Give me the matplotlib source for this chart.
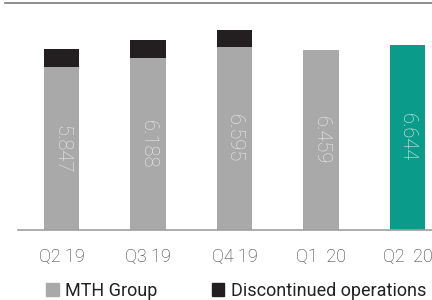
import numpy as np
import matplotlib
matplotlib.use('Agg')
import matplotlib.pyplot as plt
from matplotlib.lines import Line2D
from matplotlib.patches import Patch

plt.rcParams['font.family'] = ['Roboto', 'DejaVu Sans']

# data
quarters = ['Q2 19', 'Q3 19', 'Q4 19', 'Q1  20', 'Q2  20']
mth_group = [5.847, 6.188, 6.595, 6.459, 6.644]
discontinued = [0.67, 0.65, 0.60, 0.0, 0.0]
labels = ['5.847', '6.188', '6.595', '6.459', '6.644']

grey = '#a9a9a9'
dark = '#231f20'
teal = '#0b9b8a'
colors = [grey, grey, grey, grey, teal]

fig = plt.figure(figsize=(4.32, 3.0), dpi=100)
ax = fig.add_axes([18/432, 1 - 230/300, 1 - 18/432, 230/300])

x = np.arange(len(quarters))
ax.bar(x, mth_group, width=0.405, color=colors, edgecolor='none')
ax.bar(x, discontinued, width=0.405, bottom=mth_group, color=dark, edgecolor='none')

for xi, v, lab in zip(x, mth_group, labels):
    ax.text(xi, v / 2, lab, rotation=-90, ha='center', va='center',
            fontsize=14.5, color='#ececec', fontweight='light')

ax.set_xlim(-0.503, -0.503 + 414/86.5)
ax.set_ylim(0, 230/27.8)
ax.set_xticks(x)
ax.set_xticklabels(quarters, fontsize=13, color='#333333', fontweight='light')
ax.tick_params(axis='x', length=0, pad=13)
ax.set_yticks([])
for s in ['top', 'right', 'left']:
    ax.spines[s].set_visible(False)
ax.spines['bottom'].set_color('#a0a0a0')
ax.spines['bottom'].set_linewidth(1.2)

# thin rule along the top of the figure
fig.add_artist(Line2D([5/432, 1], [1 - 2.5/300, 1 - 2.5/300], color='#7a7a7a',
                      lw=1.2, transform=fig.transFigure))

handles = [Patch(color=grey), Patch(color=dark)]
fig.legend(handles, ['MTH Group', 'Discontinued operations'], loc='center',
           bbox_to_anchor=(236/432, 1 - 291/300), ncol=2, frameon=False,
           handlelength=0.7, handleheight=0.7, handletextpad=0.35,
           columnspacing=3.0, borderpad=0, labelcolor='#222222',
           prop={'size': 13})

fig.savefig('out.png', dpi=100)
